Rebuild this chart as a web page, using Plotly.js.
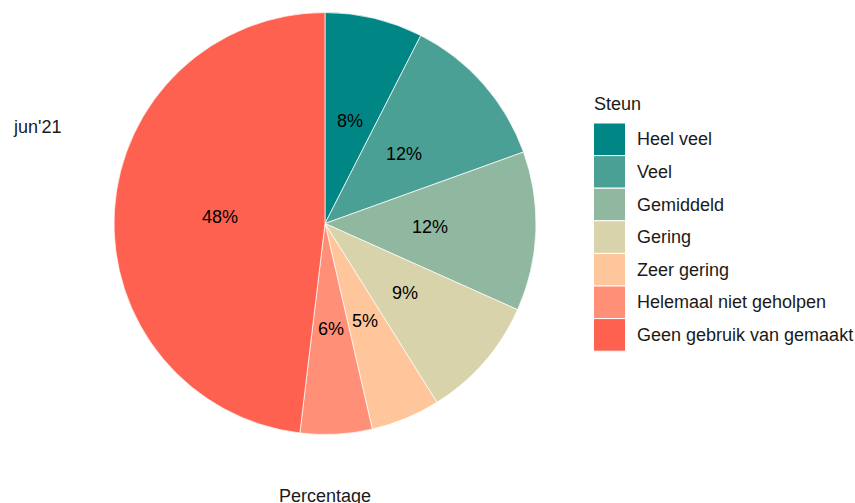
<!DOCTYPE html>
<html>
<head>
<meta charset="utf-8">
<script src="https://cdn.plot.ly/plotly-3.0.1.min.js"></script>
<style>html,body{margin:0;padding:0;background:#fff;}#chart{width:855px;height:503px;}</style>
</head>
<body>
<div id="chart"></div>
<script>
const categories = ["Heel veel", "Veel", "Gemiddeld", "Gering", "Zeer gering", "Helemaal niet geholpen", "Geen gebruik van gemaakt"];
const values = [7.5, 12.0, 12.2, 9.4, 5.3, 5.5, 48.1];
const textLabels = ["8%", "12%", "12%", "9%", "5%", "6%", "48%"];
const colors = ["#008785", "#4AA095", "#90B7A0", "#D9D3AB", "#FFC69C", "#FF9077", "#FF6150"];
const facetLabel = "jun'21";
const legendTitle = "Steun";
const xTitle = "Percentage";

const W = 855, H = 503;
const cx = 325, cy = 223.5, R = 211;
const px = x => x / W;
const py = y => 1 - y / H;
const FONT = 'Liberation Sans, Arial, sans-serif';

const annotations = [];
const total = values.reduce((a, b) => a + b, 0);
let cum = 0;
values.forEach((v, i) => {
  const mid = (cum + v / 2) / total;
  cum += v;
  const th = 2 * Math.PI * mid;
  annotations.push({
    xref: 'paper', yref: 'paper',
    x: px(cx + 0.5 * R * Math.sin(th)), y: py(cy - 0.5 * R * Math.cos(th)),
    text: textLabels[i], showarrow: false,
    font: {family: FONT, size: 18, color: '#000'},
    xanchor: 'center', yanchor: 'middle'
  });
});

annotations.push({xref:'paper', yref:'paper', x: px(11), y: py(127), text: facetLabel, showarrow:false,
  xanchor:'left', yanchor:'middle', font:{family:FONT, size:18, color:'#1a1a1a'}});
annotations.push({xref:'paper', yref:'paper', x: px(325), y: py(496), text: xTitle, showarrow:false,
  xanchor:'center', yanchor:'middle', font:{family:FONT, size:18, color:'#1a1a1a'}});
annotations.push({xref:'paper', yref:'paper', x: px(592), y: py(104), text: legendTitle, showarrow:false,
  xanchor:'left', yanchor:'middle', font:{family:FONT, size:18, color:'#1a1a1a'}});

const shapes = [];
const keyTop = 123, keyH = 32.6, keyX0 = 593.5, keyX1 = 625.5;
categories.forEach((c, i) => {
  const y0 = keyTop + i * keyH;
  shapes.push({type:'rect', xref:'paper', yref:'paper', x0: px(keyX0), x1: px(keyX1), y0: py(y0), y1: py(y0 + keyH),
    fillcolor: colors[i], line:{color:'#ffffff', width:1}});
  annotations.push({xref:'paper', yref:'paper', x: px(635), y: py(y0 + keyH / 2), text: c, showarrow:false,
    xanchor:'left', yanchor:'middle', font:{family:FONT, size:18, color:'#1a1a1a'}});
});

const data = [{
  type: 'pie',
  labels: categories,
  values: values,
  sort: false,
  direction: 'clockwise',
  rotation: 0,
  textinfo: 'none',
  hoverinfo: 'label+percent',
  marker: {colors: colors, line: {color: '#ffffff', width: 0.7}},
  domain: {x: [px(cx - R), px(cx + R)], y: [py(cy + R), py(cy - R)]},
  showlegend: false
}];

const layout = {
  width: W, height: H,
  margin: {l: 0, r: 0, t: 0, b: 0},
  paper_bgcolor: '#ffffff',
  plot_bgcolor: '#ffffff',
  showlegend: false,
  annotations: annotations,
  shapes: shapes
};

Plotly.newPlot('chart', data, layout, {displayModeBar: false, staticPlot: true});
</script>
</body>
</html>
